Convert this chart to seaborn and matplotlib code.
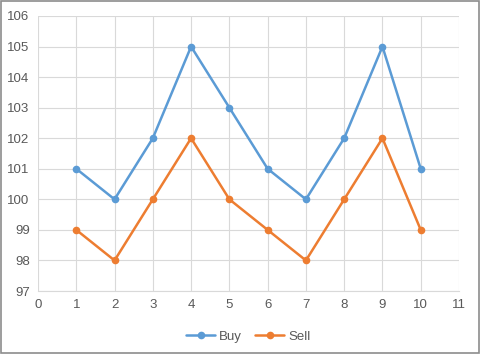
import matplotlib
matplotlib.use("Agg")
import matplotlib.pyplot as plt
import seaborn as sns
import pandas as pd
from matplotlib.patches import Rectangle

x_values = [1, 2, 3, 4, 5, 6, 7, 8, 9, 10]
buy = [101, 100, 102, 105, 103, 101, 100, 102, 105, 101]
sell = [99, 98, 100, 102, 100, 99, 98, 100, 102, 99]
series_names = ["Buy", "Sell"]
x_ticks = list(range(0, 12))
y_ticks = list(range(97, 107))

df = pd.DataFrame({
    "x": x_values * 2,
    "value": buy + sell,
    "series": [series_names[0]] * len(buy) + [series_names[1]] * len(sell),
})

sns.set_theme(style="white")
plt.rcParams['font.family'] = ['Liberation Sans', 'DejaVu Sans']

fig = plt.figure(figsize=(4.85, 3.57), dpi=100)
ax = fig.add_axes([38/485, 1-291/357, (459-38)/485, (291-16)/357])

palette = {"Buy": "#5B9BD5", "Sell": "#ED7D31"}
sns.lineplot(data=df, x="x", y="value", hue="series", palette=palette,
             marker="o", markersize=5.5, markeredgewidth=0, linewidth=1.8,
             ax=ax, legend=True)

ax.set_xlim(0, 11)
ax.set_ylim(97, 106)
ax.set_xticks(x_ticks)
ax.set_yticks(y_ticks)
ax.grid(True, color="#D9D9D9", linewidth=0.8)
ax.set_axisbelow(True)
for s in ["top", "right", "left"]:
    ax.spines[s].set_visible(False)
ax.spines["bottom"].set_color("#D9D9D9")
ax.spines["bottom"].set_linewidth(0.8)
ax.tick_params(axis="both", length=0, labelsize=9.5, colors="#595959", pad=6)
ax.set_xlabel("")
ax.set_ylabel("")

handles, labels = ax.get_legend_handles_labels()
ax.legend(handles, labels, loc="upper center", bbox_to_anchor=(0.5, -0.1),
          ncol=2, frameon=False, fontsize=9.5, labelcolor="#595959",
          handlelength=2.2, columnspacing=1.0, handletextpad=0.3)

fig.patches.append(Rectangle((0.5/485, 4.5/357), 479/485, 352/357, transform=fig.transFigure,
                             fill=False, edgecolor="#8C8C8C", linewidth=1.2))

fig.savefig("out.png", dpi=100)
